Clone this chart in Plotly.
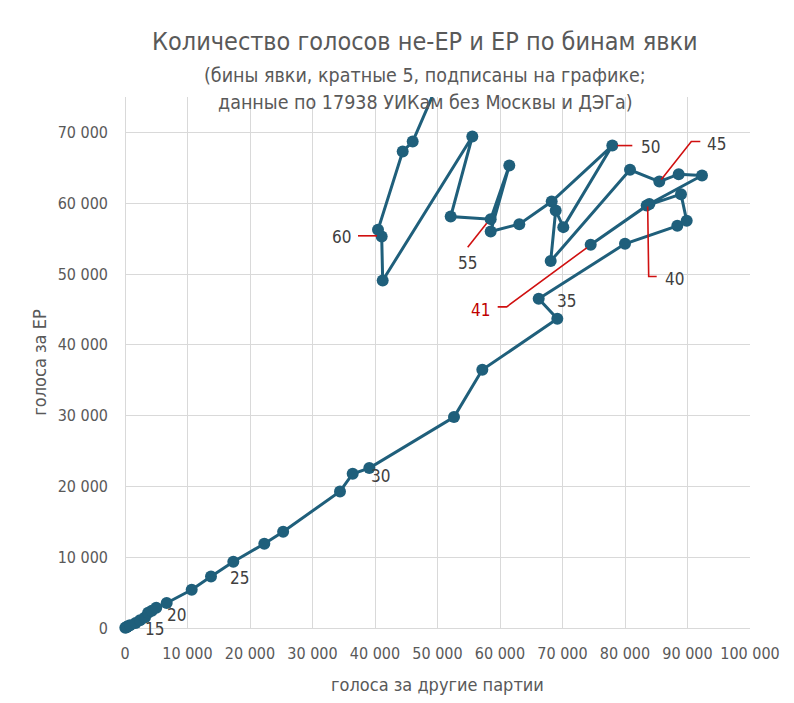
"""
Votes for other parties vs votes for United Russia, by turnout bin
"""

import plotly.graph_objects as go

# turnout bins (%) in plotting order
turnout = [0, 5, 10, 15, 16, 17, 18, 19, 20, 21, 22, 23, 24, 25, 26, 27, 28, 29, 30,
           31, 32, 33, 34, 35, 36, 37, 38, 39, 40, 41, 42, 43, 44, 45, 46, 47, 48,
           49, 50, 51, 52, 53, 54, 55, 56, 57, 58, 59, 60, 61, 62, 63]

# votes for the other parties (x)
other_votes = [50, 200, 450, 300, 800, 1700, 2400, 3200, 3700, 4300, 5000, 6670, 10670,
               13760, 17330, 22290, 25300, 34400, 36430, 39090, 52640, 57170, 69170,
               66190, 80000, 88370, 89870, 88960, 83470, 74510, 83900, 92320, 88590,
               85490, 80800, 68110, 68910, 70130, 77970, 68270, 63090, 58510, 61490,
               58510, 52110, 55570, 41230, 41070, 40480, 44430, 46030, 50600]

# votes for United Russia (y)
ep_votes = [30, 100, 250, 150, 400, 700, 1100, 1500, 2150, 2450, 2850, 3530, 5410,
            7290, 9360, 11900, 13600, 19290, 21790, 22590, 29790, 36470, 43670,
            46500, 54260, 56800, 57510, 61280, 59670, 54120, 59900, 63910, 64100,
            63060, 64710, 51820, 58970, 56620, 68140, 60240, 57040, 56000, 65320,
            57750, 58120, 69420, 49080, 55300, 56240, 67300, 68710, 78000]

# plain labels, drawn to the right of the point
plain_labels = [15, 20, 25, 30, 35]

# labels with red leader lines: turnout -> (leader path in px, label dx, label dy, text colour)
leader_labels = {
    50: ("M 5 0 L 20 0", 38, -1, "#404040"),
    45: ("M 2 2 L 32 40 L 41 40", 57, 38, "#404040"),
    40: ("M 1 -1 L 2 -71 L 10 -71", 28, -73, "#404040"),
    41: ("M -4 -3 L -84 -62 L -93 -62", -110, -65, "#c00000"),
    55: ("M -4 -4 L -23 -28", -23, -44, "#404040"),
    60: ("M -1 -6 L -20 -6", -37, -7, "#404040"),
}

Y_MAX = 75000
LINE_COLOR = "#1f5f7b"
TEXT_COLOR = "#595959"
FONT = "DejaVu Sans Condensed, Liberation Sans Narrow, Roboto, sans-serif"

fig = go.Figure()

# the line runs off the top of the chart, so markers are drawn separately
fig.add_trace(go.Scatter(
    x=other_votes,
    y=ep_votes,
    mode="lines",
    line=dict(color=LINE_COLOR, width=3),
    hoverinfo="skip",
    showlegend=False
))

inside = [i for i, v in enumerate(ep_votes) if v <= Y_MAX]
fig.add_trace(go.Scatter(
    x=[other_votes[i] for i in inside],
    y=[ep_votes[i] for i in inside],
    mode="markers",
    marker=dict(color=LINE_COLOR, size=12),
    customdata=[turnout[i] for i in inside],
    hovertemplate="явка %{customdata}%<br>другие: %{x}<br>ЕР: %{y}<extra></extra>",
    cliponaxis=False,
    showlegend=False
))

for t in plain_labels:
    i = turnout.index(t)
    fig.add_annotation(
        x=other_votes[i], y=ep_votes[i], text=str(t), showarrow=False,
        xshift=28, yshift=-2, font=dict(family=FONT, size=17, color="#404040")
    )

for t, (path, dx, dy, color) in leader_labels.items():
    i = turnout.index(t)
    fig.add_shape(
        type="path", path=path,
        xref="x", yref="y", xsizemode="pixel", ysizemode="pixel",
        xanchor=other_votes[i], yanchor=ep_votes[i],
        line=dict(color="#d01010", width=1.6)
    )
    fig.add_annotation(
        x=other_votes[i], y=ep_votes[i], text=str(t), showarrow=False,
        xshift=dx, yshift=dy, font=dict(family=FONT, size=17, color=color)
    )

# subtitle lines
fig.add_annotation(
    xref="paper", yref="paper", x=0.48, y=1.041, showarrow=False,
    xanchor="center", yanchor="middle",
    text="(бины явки, кратные 5, подписаны на графике;",
    font=dict(family=FONT, size=19.5, color=TEXT_COLOR)
)
fig.add_annotation(
    xref="paper", yref="paper", x=0.48, y=0.989, showarrow=False,
    xanchor="center", yanchor="middle",
    text="данные по 17938 УИКам без Москвы и ДЭГа)",
    font=dict(family=FONT, size=19.5, color=TEXT_COLOR)
)

fig.update_layout(
    title=dict(
        text="Количество голосов не-ЕР и ЕР по бинам явки",
        x=0.525, xanchor="center", y=0.952, yanchor="middle",
        font=dict(family=FONT, size=25, color=TEXT_COLOR)
    ),
    width=794,
    height=703,
    margin=dict(l=117, r=52, t=89, b=83, autoexpand=False),
    paper_bgcolor="white",
    plot_bgcolor="white",
    separators=", ",
    font=dict(family=FONT, size=16, color=TEXT_COLOR),
    xaxis=dict(
        range=[0, 100000], dtick=10000, tickformat=",d", automargin=False,
        showgrid=True, gridcolor="#d9d9d9", gridwidth=1,
        zeroline=True, zerolinecolor="#d9d9d9", zerolinewidth=1,
        showline=False, ticks="", ticklen=0, ticklabelstandoff=14,
        tickfont=dict(family=FONT, size=16, color=TEXT_COLOR),
        title=dict(text="голоса за другие партии", standoff=16,
                   font=dict(family=FONT, size=18, color=TEXT_COLOR))
    ),
    yaxis=dict(
        range=[0, Y_MAX], dtick=10000, tickformat=",d", automargin=False,
        showgrid=True, gridcolor="#d9d9d9", gridwidth=1,
        zeroline=True, zerolinecolor="#d9d9d9", zerolinewidth=1,
        showline=False, ticks="", ticklen=0, ticklabelstandoff=16,
        tickfont=dict(family=FONT, size=16, color=TEXT_COLOR),
        title=dict(text="голоса за ЕР", standoff=6,
                   font=dict(family=FONT, size=18, color=TEXT_COLOR))
    ),
    hovermode="closest"
)

fig.write_html("out.html")
